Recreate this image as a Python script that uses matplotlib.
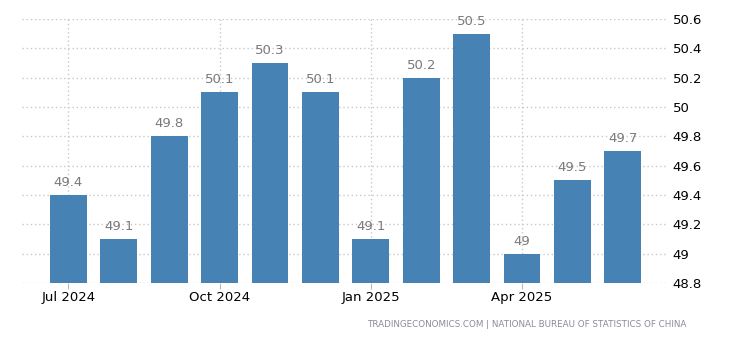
import numpy as np
import matplotlib.pyplot as plt
from matplotlib.ticker import FuncFormatter

# China manufacturing PMI, monthly
months = ['Jul 2024', 'Aug 2024', 'Sep 2024', 'Oct 2024', 'Nov 2024', 'Dec 2024',
          'Jan 2025', 'Feb 2025', 'Mar 2025', 'Apr 2025', 'May 2025', 'Jun 2025']
pmi = [49.4, 49.1, 49.8, 50.1, 50.3, 50.1, 49.1, 50.2, 50.5, 49.0, 49.5, 49.7]
yticks = [48.8, 49.0, 49.2, 49.4, 49.6, 49.8, 50.0, 50.2, 50.4, 50.6]
xtick_idx = [0, 3, 6, 9]

x = np.arange(len(months))

fig = plt.figure(figsize=(7.3, 3.4), dpi=100)
ax = fig.add_axes([0.030, 0.168, 0.884, 0.776])

bars = ax.bar(x, [v - 48.8 for v in pmi], bottom=48.8, width=0.73,
              color='#4682b4', zorder=3)
for xi, v in zip(x, pmi):
    ax.text(xi, v + 0.04, f'{v:g}', ha='center', va='bottom',
            fontsize=9.5, color='#7a7a7a', zorder=4)

ax.set_ylim(48.8, 50.6)
ax.set_xlim(-0.92, 11.88)
ax.set_yticks(yticks)
ax.yaxis.set_major_formatter(FuncFormatter(lambda v, p: f'{v:g}'))
ax.yaxis.tick_right()
ax.tick_params(axis='y', length=0, pad=4, labelsize=9.5, labelcolor='black')

ax.set_xticks(xtick_idx)
ax.set_xticklabels([months[i] for i in xtick_idx])
ax.tick_params(axis='x', length=4, color='#bbbbbb', pad=2, labelsize=9.5)

ax.grid(True, which='major', axis='both', linestyle=(0, (1, 2)),
        color='#c8c8c8', linewidth=1, zorder=0)
ax.set_axisbelow(True)
for s in ax.spines.values():
    s.set_visible(False)

fig.text(0.94, 0.045, 'TRADINGECONOMICS.COM | NATIONAL BUREAU OF STATISTICS OF CHINA',
         ha='right', va='center', fontsize=6.3, color='#8c8c99')

fig.savefig('out.png', dpi=100)
